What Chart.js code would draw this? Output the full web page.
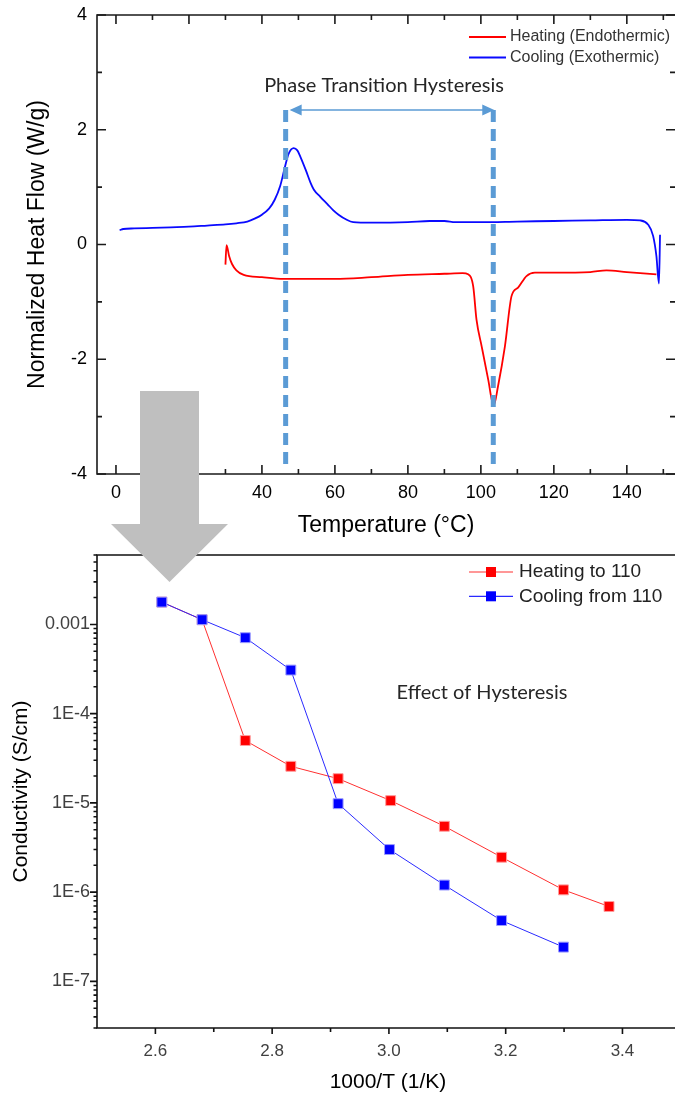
<!DOCTYPE html>
<html>
<head>
<meta charset="utf-8">
<script src="https://cdn.jsdelivr.net/npm/chart.js"></script>
<style>
body { margin: 0; background: #fff; overflow: hidden; }
#wrap { position: relative; width: 675px; height: 1096px; }
canvas { position: absolute; left: 0; }
#c1 { top: 0; }
#c2 { top: 545px; }
#arrow {
    position: absolute; left: 111px; top: 391px; width: 117px; height: 191px;
    background: #bfbfbf;
    clip-path: polygon(29px 0, 88px 0, 88px 133px, 117px 133px, 58.5px 191px, 0 133px, 29px 133px);
}
</style>
</head>
<body>
<div id="wrap">
    <canvas id="c1" width="675" height="545"></canvas>
    <canvas id="c2" width="675" height="551"></canvas>
    <div id="arrow"></div>
</div>
<script>
// ---- DSC curves (temperature in C, heat flow in W/g)
var coolT = [1, 2, 5, 10, 15, 20, 25, 30, 33, 36, 38, 40, 42, 43.5, 45, 46.3, 47.3, 48.7, 49.7, 50.6,
    52, 53.3, 54.2, 56, 58, 59.5, 61, 63, 65, 70, 80, 86, 90, 93, 100, 110, 120, 130, 140, 143.6,
    145.8, 147.2, 148.1, 148.8, 149.1];
var coolQ = [0.25, 0.27, 0.28, 0.29, 0.30, 0.31, 0.33, 0.35, 0.37, 0.40, 0.45, 0.52, 0.63, 0.78, 1.02, 1.35, 1.58, 1.68, 1.64, 1.52,
    1.30, 1.08, 0.96, 0.83, 0.70, 0.60, 0.52, 0.44, 0.39, 0.38, 0.39, 0.41, 0.41, 0.39, 0.39, 0.40, 0.41, 0.42, 0.43, 0.42,
    0.35, 0.15, -0.20, -0.68, 0.17];
var heatT = [30, 30.3, 31, 31.8, 33, 35, 40, 46, 60, 70, 80, 90, 95, 96.5, 97.9, 98.8, 100.2, 102, 103.5, 104.7,
    106.6, 108.4, 110.2, 112.5, 114.8, 120, 130, 134.4, 140, 148.1];
var heatQ = [-0.35, -0.01, -0.20, -0.34, -0.45, -0.53, -0.57, -0.60, -0.60, -0.57, -0.53, -0.51, -0.50, -0.52, -0.73, -1.31, -1.77, -2.35, -2.81, -2.47,
    -1.77, -0.90, -0.75, -0.55, -0.49, -0.49, -0.48, -0.45, -0.48, -0.52];
var dscXTicks = [0, 20, 40, 60, 80, 100, 120, 140];
var dscXMinor = [10, 30, 50, 70, 90, 110, 130, 150];
var dscYTicks = [-4, -2, 0, 2, 4];
var dscYMinor = [-3, -1, 1, 3];
var hystFrom = 46.5, hystTo = 103.4;   // dashed markers

// ---- conductivity (1000/T in 1/K, sigma in S/cm)
var heatInvT = [2.611, 2.680, 2.754, 2.832, 2.913, 3.003, 3.095, 3.193, 3.299, 3.377];
var heatSig = [1.78e-3, 1.13e-3, 5.0e-5, 2.57e-5, 1.87e-5, 1.06e-5, 5.47e-6, 2.46e-6, 1.06e-6, 6.9e-7];
var coolInvT = [2.611, 2.680, 2.754, 2.832, 2.913, 3.001, 3.095, 3.193, 3.299];
var coolSig = [1.78e-3, 1.13e-3, 7.1e-4, 3.08e-4, 9.8e-6, 3.0e-6, 1.2e-6, 4.8e-7, 2.42e-7];
var condXTicks = [2.6, 2.8, 3.0, 3.2, 3.4];
var condXMinor = [2.7, 2.9, 3.1, 3.3];
var condYTicks = [1e-7, 1e-6, 1e-5, 1e-4, 1e-3];
var condYLabels = ['1E-7', '1E-6', '1E-5', '1E-4', '0.001'];

var ARIAL = "'Liberation Sans', Arial, sans-serif";
var CALIBRI = "Lato, 'Open Sans', sans-serif";

function pts(xs, ys) {
    return xs.map(function (x, i) { return { x: x, y: ys[i] }; });
}

// fixed axis box, no extra label padding
function fixBox(w, h) {
    return function (s) {
        if (w) s.width = w;
        if (h) s.height = h;
        s.paddingTop = 0; s.paddingBottom = 0; s.paddingLeft = 0; s.paddingRight = 0;
    };
}

// ---------------- chart 1 : DSC ----------------
var dscFrame = {
    id: 'dscFrame',
    afterDatasetsDraw: function (chart) {
        var ctx = chart.ctx, a = chart.chartArea;
        var xs = chart.scales.x, ys = chart.scales.y;
        ctx.save();
        // hysteresis markers
        var x1 = xs.getPixelForValue(hystFrom), x2 = xs.getPixelForValue(hystTo);
        var yTop = 110, yBot = 465;
        ctx.strokeStyle = '#5b9bd5';
        ctx.lineWidth = 5;
        ctx.setLineDash([12, 7]);
        ctx.beginPath();
        ctx.moveTo(x1, yTop); ctx.lineTo(x1, yBot);
        ctx.moveTo(x2, yTop); ctx.lineTo(x2, yBot);
        ctx.stroke();
        ctx.setLineDash([]);
        ctx.lineWidth = 1.5;
        ctx.beginPath();
        ctx.moveTo(x1 + 6, yTop); ctx.lineTo(x2 - 2, yTop);
        ctx.stroke();
        ctx.fillStyle = '#5b9bd5';
        ctx.beginPath();
        ctx.moveTo(x1 + 4, yTop); ctx.lineTo(x1 + 16, yTop - 5.5); ctx.lineTo(x1 + 16, yTop + 5.5); ctx.closePath();
        ctx.moveTo(x2 + 1, yTop); ctx.lineTo(x2 - 11, yTop - 5.5); ctx.lineTo(x2 - 11, yTop + 5.5); ctx.closePath();
        ctx.fill();
        ctx.fillStyle = '#262626';
        ctx.font = '20px ' + CALIBRI;
        ctx.textAlign = 'center';
        ctx.textBaseline = 'middle';
        ctx.fillText('Phase Transition Hysteresis', 384, 86);

        // frame
        ctx.strokeStyle = '#1a1a1a';
        ctx.lineWidth = 1.6;
        ctx.beginPath();
        ctx.moveTo(a.right, a.top); ctx.lineTo(a.left, a.top);
        ctx.lineTo(a.left, a.bottom); ctx.lineTo(a.right, a.bottom);
        ctx.stroke();
        ctx.beginPath();
        function xt(v, len) {
            var p = xs.getPixelForValue(v);
            ctx.moveTo(p, a.bottom); ctx.lineTo(p, a.bottom - len);
            ctx.moveTo(p, a.top); ctx.lineTo(p, a.top + len);
        }
        function yt(v, len) {
            var p = ys.getPixelForValue(v);
            ctx.moveTo(a.left, p); ctx.lineTo(a.left + len, p);
            ctx.moveTo(a.right, p); ctx.lineTo(a.right - len, p);
        }
        dscXTicks.forEach(function (v) { xt(v, 9); });
        dscXMinor.forEach(function (v) { xt(v, 5); });
        dscYTicks.forEach(function (v) { yt(v, 9); });
        dscYMinor.forEach(function (v) { yt(v, 5); });
        ctx.stroke();

        // axis titles
        ctx.fillStyle = '#000';
        ctx.font = '23px ' + ARIAL;
        ctx.fillText('Temperature (\u00B0C)', (a.left + a.right) / 2, a.bottom + 52);
        ctx.save();
        ctx.translate(38, (a.top + a.bottom) / 2);
        ctx.rotate(-Math.PI / 2);
        ctx.fillText('Normalized Heat Flow (W/g)', 0, 0);
        ctx.restore();

        // legend
        var items = chart.data.datasets;
        ctx.font = '16px ' + ARIAL;
        ctx.textAlign = 'left';
        items.forEach(function (d, i) {
            var y = 37 + i * 20.5;
            ctx.strokeStyle = d.borderColor;
            ctx.lineWidth = 2;
            ctx.beginPath(); ctx.moveTo(469, y); ctx.lineTo(506, y); ctx.stroke();
            ctx.fillStyle = '#333';
            ctx.fillText(d.label, 510, y);
        });
        ctx.restore();
    }
};

new Chart(document.getElementById('c1'), {
    type: 'scatter',
    data: {
        datasets: [{
            label: 'Heating (Endothermic)',
            data: pts(heatT, heatQ),
            showLine: true,
            borderColor: '#ff0000',
            borderWidth: 1.8,
            pointRadius: 0,
            cubicInterpolationMode: 'monotone'
        }, {
            label: 'Cooling (Exothermic)',
            data: pts(coolT, coolQ),
            showLine: true,
            borderColor: '#0a0aff',
            borderWidth: 1.8,
            pointRadius: 0,
            cubicInterpolationMode: 'monotone'
        }]
    },
    options: {
        responsive: false,
        animation: false,
        layout: { autoPadding: false, padding: { top: 15, right: 0, left: 0, bottom: 0 } },
        plugins: { legend: { display: false }, tooltip: { enabled: false } },
        scales: {
            x: {
                type: 'linear', min: -5.2, max: 153.2,
                grid: { display: false, drawTicks: false },
                border: { display: false },
                afterBuildTicks: function (s) { s.ticks = dscXTicks.map(function (v) { return { value: v }; }); },
                afterFit: fixBox(0, 71),
                ticks: { color: '#000', font: { family: ARIAL, size: 18 }, padding: 8, maxRotation: 0, autoSkip: false }
            },
            y: {
                type: 'linear', min: -4, max: 4,
                grid: { display: false, drawTicks: false },
                border: { display: false },
                afterBuildTicks: function (s) { s.ticks = dscYTicks.map(function (v) { return { value: v }; }); },
                afterFit: fixBox(97, 0),
                ticks: { color: '#000', font: { family: ARIAL, size: 18 }, padding: 10 }
            }
        }
    },
    plugins: [dscFrame]
});

// ---------------- chart 2 : conductivity ----------------
var condFrame = {
    id: 'condFrame',
    afterDatasetsDraw: function (chart) {
        var ctx = chart.ctx, a = chart.chartArea;
        var xs = chart.scales.x, ys = chart.scales.y;
        ctx.save();
        ctx.strokeStyle = '#111';
        ctx.lineWidth = 1.6;
        ctx.beginPath();
        ctx.moveTo(a.right, a.top); ctx.lineTo(a.left, a.top);
        ctx.lineTo(a.left, a.bottom); ctx.lineTo(a.right, a.bottom);
        ctx.stroke();
        ctx.beginPath();
        condXTicks.forEach(function (v) {
            var p = xs.getPixelForValue(v);
            ctx.moveTo(p, a.bottom); ctx.lineTo(p, a.bottom + 6);
        });
        condXMinor.forEach(function (v) {
            var p = xs.getPixelForValue(v);
            ctx.moveTo(p, a.bottom); ctx.lineTo(p, a.bottom + 4);
        });
        condYTicks.forEach(function (v) {
            var p = ys.getPixelForValue(v);
            ctx.moveTo(a.left, p); ctx.lineTo(a.left - 7, p);
        });
        for (var e = -8; e <= -3; e++) {
            for (var k = 2; k <= 9; k++) {
                var v = k * Math.pow(10, e);
                if (v < ys.min || v > ys.max) continue;
                var p = ys.getPixelForValue(v);
                ctx.moveTo(a.left, p); ctx.lineTo(a.left - 3.5, p);
            }
        }
        ctx.stroke();

        ctx.fillStyle = '#000';
        ctx.font = '21px ' + ARIAL;
        ctx.textAlign = 'center';
        ctx.textBaseline = 'middle';
        ctx.fillText('1000/T (1/K)', 388, a.bottom + 54);
        ctx.save();
        ctx.translate(21, (a.top + a.bottom) / 2);
        ctx.rotate(-Math.PI / 2);
        ctx.fillText('Conductivity (S/cm)', 0, 0);
        ctx.restore();

        ctx.fillStyle = '#262626';
        ctx.font = '20px ' + CALIBRI;
        ctx.fillText('Effect of Hysteresis', 482, 148);

        // legend
        ctx.font = '19px ' + ARIAL;
        ctx.textAlign = 'left';
        chart.data.datasets.forEach(function (d, i) {
            var y = 27 + i * 24.3;
            ctx.strokeStyle = d.borderColor;
            ctx.lineWidth = 1.2;
            ctx.beginPath(); ctx.moveTo(469, y); ctx.lineTo(513, y); ctx.stroke();
            ctx.fillStyle = d.pointBackgroundColor;
            ctx.fillRect(486, y - 5, 10, 10);
            ctx.fillStyle = '#222';
            ctx.fillText(d.label, 519, y);
        });
        ctx.restore();
    }
};

new Chart(document.getElementById('c2'), {
    type: 'scatter',
    data: {
        datasets: [{
            label: 'Heating to 110',
            data: pts(heatInvT, heatSig),
            showLine: true,
            order: 2,
            borderColor: '#ff3030',
            borderWidth: 1,
            pointStyle: 'rect',
            pointRadius: 7,
            pointBackgroundColor: '#ff0000',
            pointBorderColor: '#ff9c9c',
            pointBorderWidth: 1
        }, {
            label: 'Cooling from 110',
            data: pts(coolInvT, coolSig),
            showLine: true,
            order: 1,
            borderColor: '#2a2aff',
            borderWidth: 1,
            pointStyle: 'rect',
            pointRadius: 7,
            pointBackgroundColor: '#0000ff',
            pointBorderColor: '#9c9cff',
            pointBorderWidth: 1
        }]
    },
    options: {
        responsive: false,
        animation: false,
        layout: { autoPadding: false, padding: { top: 10, right: 0, left: 0, bottom: 0 } },
        plugins: { legend: { display: false }, tooltip: { enabled: false } },
        scales: {
            x: {
                type: 'linear', min: 2.5, max: 3.49,
                grid: { display: false, drawTicks: false },
                border: { display: false },
                afterBuildTicks: function (s) { s.ticks = condXTicks.map(function (v) { return { value: v }; }); },
                afterFit: fixBox(0, 68),
                ticks: {
                    color: '#404040', font: { family: ARIAL, size: 17 }, padding: 13, maxRotation: 0, autoSkip: false,
                    callback: function (v) { return v.toFixed(1); }
                }
            },
            y: {
                type: 'logarithmic', min: 3e-8, max: 6e-3,
                grid: { display: false, drawTicks: false },
                border: { display: false },
                afterBuildTicks: function (s) { s.ticks = condYTicks.map(function (v) { return { value: v }; }); },
                afterFit: fixBox(97, 0),
                ticks: {
                    color: '#404040', font: { family: ARIAL, size: 18 }, padding: 7, autoSkip: false,
                    callback: function (v) {
                        var i = condYTicks.indexOf(v);
                        return i >= 0 ? condYLabels[i] : '';
                    }
                }
            }
        }
    },
    plugins: [condFrame]
});
</script>
</body>
</html>
